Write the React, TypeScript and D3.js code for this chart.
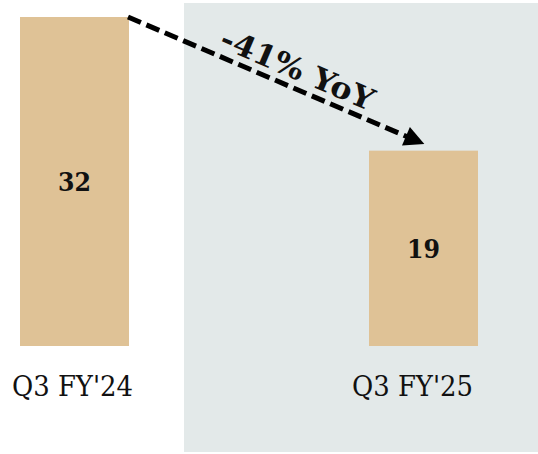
import React from "react";
import * as d3 from "d3";

const categories = ["Q3 FY'24", "Q3 FY'25"];
const values = [32, 19];
const changeLabel = "-41% YoY";

const W = 538;
const H = 454;

export default function App() {
  const x = d3.scalePoint<string>().domain(categories).range([74.5, 423.5]);
  const y = d3.scaleLinear().domain([0, 32]).range([346, 17]);
  const barW = 109;

  const x0 = x(categories[0])! + barW / 2 - 1;
  const y0 = y(values[0]);
  const x1 = x(categories[1])! + 4.5;
  const y1 = y(values[1]) - 5;
  const ang = (Math.atan2(y1 - y0, x1 - x0) * 180) / Math.PI;
  const t = 0.54;
  const mx = x0 + (x1 - x0) * t;
  const my = y0 + (y1 - y0) * t;
  const rad = (ang * Math.PI) / 180;
  const off = 19;
  const tx = mx + off * Math.sin(rad);
  const ty = my - off * Math.cos(rad);
  const font = "'DejaVu Serif', serif";

  return (
    <svg width={W} height={H} style={{ position: "absolute", left: 0, top: 0 }}>
      <defs>
        <marker id="ah" viewBox="0 0 10 10" refX="2" refY="5" markerUnits="userSpaceOnUse" markerWidth="22" markerHeight="20" orient="auto">
          <path d="M0,0 L10,5 L0,10 Z" fill="#000" />
        </marker>
      </defs>
      <rect x={184} y={3} width={W - 184} height={449} fill="#E3E9E9" />
      {categories.map((c, i) => (
        <g key={c}>
          <rect x={x(c)! - barW / 2} y={y(values[i])} width={barW} height={y(0) - y(values[i])} fill="#DFC296" />
          <text x={x(c)} y={(y(values[i]) + y(0)) / 2} dy="0.36em" textAnchor="middle" fontFamily={font} fontWeight="bold" fontSize={26} fill="#111" textLength={33} lengthAdjust="spacingAndGlyphs">
            {values[i]}
          </text>
          <text x={x(c)! - (i === 0 ? 2 : 11)} y={396} textAnchor="middle" fontFamily={font} fontSize={27} fill="#111" textLength={121} lengthAdjust="spacingAndGlyphs">
            {c}
          </text>
        </g>
      ))}
      <line x1={x0} y1={y0} x2={x1 - 20 * Math.cos(rad)} y2={y1 - 20 * Math.sin(rad)} stroke="#000" strokeWidth={5} strokeDasharray="14 6" markerEnd="url(#ah)" />
      <text transform={`translate(${tx},${ty}) rotate(${ang})`} textAnchor="middle" dy="0.35em" fontFamily={font} fontWeight="bold" fontSize={30} fill="#111" textLength={164} lengthAdjust="spacingAndGlyphs">
        {changeLabel}
      </text>
    </svg>
  );
}
